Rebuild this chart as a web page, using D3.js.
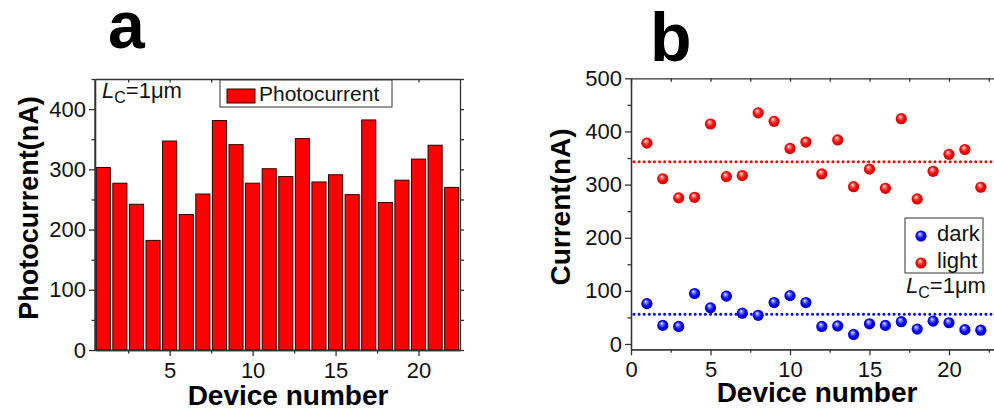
<!DOCTYPE html>
<html>
<head>
<meta charset="utf-8">
<script src="https://cdn.jsdelivr.net/npm/d3@7"></script>
<style>
  body { margin: 0; background: #fff; }
  svg { display: block; font-family: "Liberation Sans", Arial, sans-serif; }
  .axis path, .axis line { stroke: #333; stroke-width: 1.3; }
  .axis text { font-size: 22px; fill: #111; }
</style>
</head>
<body>
<svg id="chart" width="994" height="417"></svg>
<script>
// Panel a - photocurrent per device
const devices = d3.range(1, 23);
const photocurrent = [303, 277, 242, 182, 347, 225, 259, 381, 341, 277, 301,
                      288, 351, 279, 291, 258, 382, 245, 282, 317, 340, 270];

// Panel b - dark / light current per device
const darkCurrent = [76, 35, 33, 95, 68, 90, 58, 54, 78, 91, 78,
                     33, 34, 18, 38, 35, 42, 28, 43, 40, 27, 26];
const lightCurrent = [378, 311, 275, 276, 414, 315, 317, 435, 419, 368, 380,
                      320, 384, 296, 329, 293, 424, 273, 325, 357, 366, 295];
const darkAvg = 56;
const lightAvg = 343;

const ticksA_x = [5, 10, 15, 20];
const ticksA_y = [0, 100, 200, 300, 400];
const ticksB_x = [0, 5, 10, 15, 20];
const ticksB_y = [0, 100, 200, 300, 400, 500];

const svg = d3.select("#chart");

// defs for the shiny spheres
const defs = svg.append("defs");
function sphere(id, light, mid, dark) {
  const g = defs.append("radialGradient").attr("id", id)
    .attr("cx", "50%").attr("cy", "50%").attr("r", "55%")
    .attr("fx", "38%").attr("fy", "30%");
  g.append("stop").attr("offset", "0%").attr("stop-color", "#fff");
  g.append("stop").attr("offset", "22%").attr("stop-color", light);
  g.append("stop").attr("offset", "60%").attr("stop-color", mid);
  g.append("stop").attr("offset", "100%").attr("stop-color", dark);
}
sphere("ballRed", "#ff8080", "#ff0000", "#c00000");
sphere("ballBlue", "#8080ff", "#0000ff", "#0000b0");

// helper to draw one boxed axis frame with major + minor ticks
function frame(g, x, y, xMajor, xMinor, yMajor, yMinor, opts) {
  const [x0, x1] = x.range();
  const [y0, y1] = y.range();
  g.append("g").attr("class", "axis").attr("transform", `translate(0,${y0})`)
    .call(d3.axisBottom(x).tickValues(xMajor).tickSize(6).tickPadding(6).tickSizeOuter(0));
  g.append("g").attr("class", "axis").attr("transform", `translate(0,${y0})`)
    .call(d3.axisBottom(x).tickValues(xMinor).tickSize(3.5).tickFormat("").tickSizeOuter(0));
  g.append("g").attr("class", "axis").attr("transform", `translate(${x0},0)`)
    .call(d3.axisLeft(y).tickValues(yMajor).tickSize(6).tickPadding(3).tickSizeOuter(0));
  g.append("g").attr("class", "axis").attr("transform", `translate(${x0},0)`)
    .call(d3.axisLeft(y).tickValues(yMinor).tickSize(3.5).tickFormat("").tickSizeOuter(0));
  // top
  g.append("g").attr("class", "axis").attr("transform", `translate(0,${y1})`)
    .call(d3.axisTop(x).tickValues(xMajor.concat(xMinor)).tickSize(-3.5).tickFormat("").tickSizeOuter(0));
  // right
  if (opts.right) {
    g.append("g").attr("class", "axis").attr("transform", `translate(${x1},0)`)
      .call(d3.axisRight(y).tickValues(yMajor.concat(yMinor)).tickSize(4).tickFormat("").tickSizeOuter(0));
  }
}

function lcLabel(g, x, y) {
  const t = g.append("text").attr("x", x).attr("y", y)
    .style("font-size", "22px").attr("fill", "#111");
  t.append("tspan").style("font-style", "italic").text("L");
  t.append("tspan").attr("dy", 5).style("font-size", "16px").text("C");
  t.append("tspan").attr("dy", -5).text("=1\u03bcm");
}

// ---------- panel a ----------
const xA = d3.scaleLinear().domain([0.5, 22.5]).range([95, 460]);
const yA = d3.scaleLinear().domain([0, 450]).range([350, 79]);
const gA = svg.append("g");
const barW = 0.85;

gA.append("g").selectAll("rect")
  .data(photocurrent)
  .join("rect")
  .attr("x", (d, i) => xA(devices[i] - barW / 2))
  .attr("width", xA(barW) - xA(0))
  .attr("y", d => yA(d))
  .attr("height", d => yA(0) - yA(d))
  .attr("fill", "#ff0000")
  .attr("stroke", "#2a0000")
  .attr("stroke-width", 1);

frame(gA, xA, yA, ticksA_x, [2.5, 7.5, 12.5, 17.5], ticksA_y,
      [50, 150, 250, 350, 450], { right: true });
gA.append("line").attr("x1", 95).attr("x2", 95).attr("y1", 79).attr("y2", 350)
  .attr("stroke", "#333").attr("stroke-width", 1.3);

// legend a
gA.append("rect").attr("x", 220).attr("y", 80).attr("width", 172).attr("height", 27)
  .attr("fill", "#fff").attr("stroke", "#333").attr("stroke-width", 1);
gA.append("rect").attr("x", 227).attr("y", 89).attr("width", 28).attr("height", 14)
  .attr("fill", "#ff0000").attr("stroke", "#2a0000");
gA.append("text").attr("x", 259).attr("y", 101).style("font-size", "21px")
  .attr("fill", "#111").text("Photocurrent");
lcLabel(gA, 102, 98);

gA.append("text").attr("x", 288).attr("y", 405).attr("text-anchor", "middle")
  .style("font-size", "28px").style("font-weight", "bold").text("Device number");
gA.append("text").attr("transform", "translate(38,208) rotate(-90)")
  .attr("text-anchor", "middle").style("font-size", "27px").style("font-weight", "bold")
  .text("Photocurrent(nA)");
gA.append("text").attr("x", 108).attr("y", 48).style("font-size", "66px")
  .style("font-weight", "bold").text("a");

// ---------- panel b ----------
const xB = d3.scaleLinear().domain([0, 23]).range([631, 996.7]);
const yB = d3.scaleLinear().domain([-10, 500]).range([349.3, 78.3]);
const gB = svg.append("g");

frame(gB, xB, yB, ticksB_x, [2.5, 7.5, 12.5, 17.5, 22.5], ticksB_y,
      [50, 150, 250, 350, 450], { right: false });

[[lightAvg, "#ff0000"], [darkAvg, "#0000ff"]].forEach(([v, c]) => {
  gB.append("line").attr("x1", xB(0) + 3).attr("x2", 994)
    .attr("y1", yB(v)).attr("y2", yB(v))
    .attr("stroke", c).attr("stroke-width", 3)
    .attr("stroke-linecap", "round").attr("stroke-dasharray", "0 5.1");
});

gB.append("g").selectAll("circle")
  .data(lightCurrent)
  .join("circle")
  .attr("cx", (d, i) => xB(devices[i]))
  .attr("cy", d => yB(d))
  .attr("r", 5.6)
  .attr("fill", "url(#ballRed)");
gB.append("g").selectAll("circle")
  .data(darkCurrent)
  .join("circle")
  .attr("cx", (d, i) => xB(devices[i]))
  .attr("cy", d => yB(d))
  .attr("r", 5.6)
  .attr("fill", "url(#ballBlue)");

// legend b
gB.append("rect").attr("x", 905).attr("y", 218).attr("width", 78).attr("height", 55)
  .attr("fill", "none").attr("stroke", "#333").attr("stroke-width", 1);
gB.append("circle").attr("cx", 921).attr("cy", 236).attr("r", 5.6).attr("fill", "url(#ballBlue)");
gB.append("circle").attr("cx", 921).attr("cy", 263).attr("r", 5.6).attr("fill", "url(#ballRed)");
gB.append("text").attr("x", 937).attr("y", 241).style("font-size", "22px")
  .attr("fill", "#111").text("dark");
gB.append("text").attr("x", 937).attr("y", 268).style("font-size", "22px")
  .attr("fill", "#111").text("light");
lcLabel(gB, 906, 293);

gB.append("text").attr("x", 817).attr("y", 402).attr("text-anchor", "middle")
  .style("font-size", "28px").style("font-weight", "bold").text("Device number");
gB.append("text").attr("transform", "translate(570,207) rotate(-90)")
  .attr("text-anchor", "middle").style("font-size", "28px").style("font-weight", "bold")
  .text("Current(nA)");
gB.append("text").attr("x", 650).attr("y", 61).style("font-size", "68px")
  .style("font-weight", "bold").text("b");
</script>
</body>
</html>
